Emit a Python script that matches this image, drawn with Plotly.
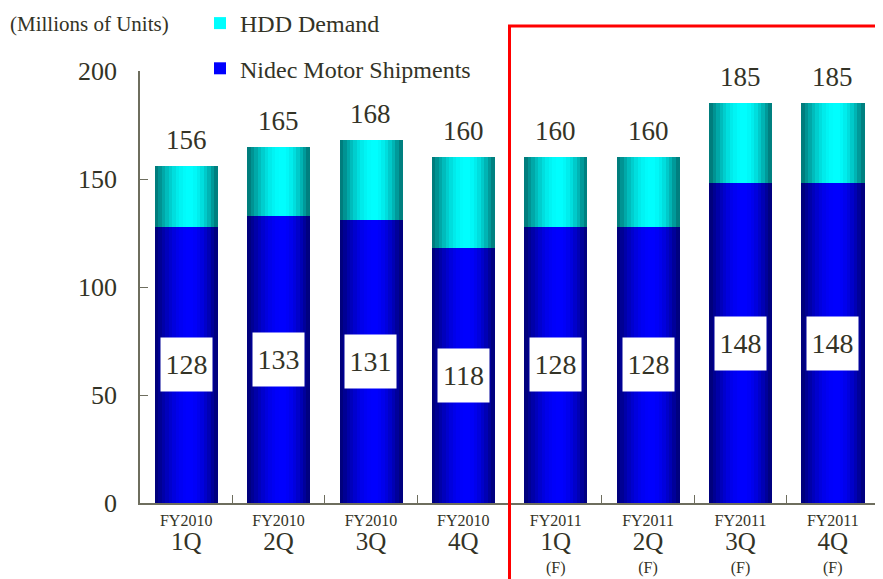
import math
import plotly.graph_objects as go

# ---- data ----
periods = ["FY2010 1Q", "FY2010 2Q", "FY2010 3Q", "FY2010 4Q",
           "FY2011 1Q", "FY2011 2Q", "FY2011 3Q", "FY2011 4Q"]
fiscal_years = ["FY2010", "FY2010", "FY2010", "FY2010",
                "FY2011", "FY2011", "FY2011", "FY2011"]
quarters = ["1Q", "2Q", "3Q", "4Q", "1Q", "2Q", "3Q", "4Q"]
forecast = [False, False, False, False, True, True, True, True]
hdd_demand = [156, 165, 168, 160, 160, 160, 185, 185]
nidec_shipments = [128, 133, 131, 118, 128, 128, 148, 148]

SERIF = "Liberation Serif"
TXT = "#333326"
AX = "#6e6e5e"

remainder = [d - s for d, s in zip(hdd_demand, nidec_shipments)]

ticktext = []
for fy, q, f in zip(fiscal_years, quarters, forecast):
    t = f"<span style='font-size:16px'>{fy}</span><br><span style='font-size:25px'>{q}</span>"
    if f:
        t += "<br><span style='font-size:16px'>(F)</span>"
    ticktext.append(t)

fig = go.Figure()

N = 18
W = 0.68
PEAK = 0.55


def shade(t):
    if t <= PEAK:
        s = t / PEAK
    else:
        s = (1 - t) / (1 - PEAK)
    return 0.45 + 0.55 * math.sin(math.pi / 2 * s)


def strips(name, y, base, rgb, rank):
    mid = int(N * PEAK)
    for k in range(N):
        t = (k + 0.5) / N
        f = shade(t)
        col = "rgb(%d,%d,%d)" % tuple(int(c * f) for c in rgb)
        fig.add_trace(go.Bar(
            x=periods, y=y, base=base, name=name,
            offset=-W / 2 + k * W / N, width=W / N + 0.004,
            marker=dict(color=col, line=dict(width=0)),
            showlegend=(k == mid), legendgroup=name, legendrank=rank,
            hoverinfo="skip",
        ))


strips("Nidec Motor Shipments", nidec_shipments, None, (0, 0, 255), 2)
strips("HDD Demand", remainder, nidec_shipments, (0, 255, 255), 1)

PW, PH = 739, 432  # plot area size in px

annotations = []
for p, d in zip(periods, hdd_demand):
    annotations.append(dict(x=p, y=d, xref="x", yref="y", text=str(d),
                            showarrow=False, yanchor="bottom", yshift=9,
                            font=dict(family=SERIF, size=27, color=TXT)))
for p, s in zip(periods, nidec_shipments):
    annotations.append(dict(x=p, y=s / 2, xref="x", yref="y", text=str(s),
                            showarrow=False, yanchor="middle",
                            bgcolor="white", width=47, height=49, borderpad=2,
                            font=dict(family=SERIF, size=28, color=TXT)))
annotations.append(dict(x=-132 / PW, y=(432 + 47) / PH, xref="paper", yref="paper",
                        text="(Millions of Units)", showarrow=False,
                        xanchor="left", yanchor="middle",
                        font=dict(family=SERIF, size=21, color=TXT)))

shapes = [
    dict(type="rect", xref="paper", yref="paper", x0=0.5, x1=1.2,
         y0=-0.4, y1=(432 + 45) / PH, line=dict(color="#ff0000", width=3),
         fillcolor="rgba(0,0,0,0)", layer="above"),
]

fig.update_layout(
    width=875, height=571,
    margin=dict(l=132, r=4, t=63, b=76, autoexpand=False),
    paper_bgcolor="white", plot_bgcolor="white",
    barmode="overlay", bargap=0,
    font=dict(family=SERIF, color=TXT),
    showlegend=True,
    legend=dict(x=60 / PW, y=(432 + 70) / PH, xanchor="left", yanchor="top",
                font=dict(family=SERIF, size=24, color=TXT),
                bgcolor="rgba(0,0,0,0)", tracegroupgap=11,
                traceorder="grouped"),
    annotations=annotations,
    shapes=shapes,
)
fig.update_xaxes(categoryorder="array", categoryarray=periods,
                 tickvals=periods, ticktext=ticktext,
                 tickson="boundaries", ticks="inside", ticklen=8, tickcolor=AX,
                 showline=True, linecolor=AX, linewidth=1.5,
                 showgrid=False, zeroline=False, automargin=False,
                 tickfont=dict(family=SERIF, size=18, color=TXT),
                 range=[-0.5, 7.5])
fig.update_yaxes(range=[0, 200], tickvals=[0, 50, 100, 150, 200],
                 ticks="inside", ticklen=8, tickcolor=AX,
                 showline=True, linecolor=AX, linewidth=1.5,
                 showgrid=False, zeroline=False, ticklabelstandoff=16,
                 automargin=False,
                 tickfont=dict(family=SERIF, size=26, color=TXT))

fig.write_html("out.html")
